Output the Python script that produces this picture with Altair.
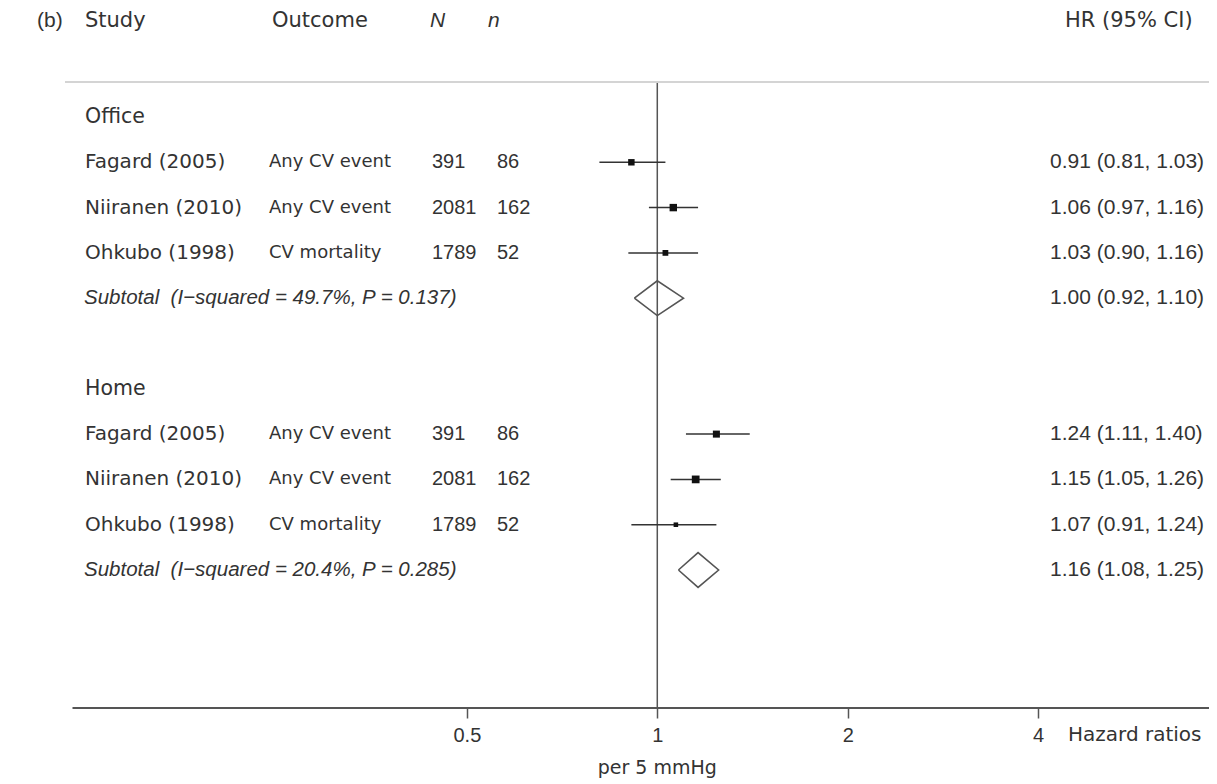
import altair as alt
import pandas as pd

# ---------------- data ----------------
groups = ["Office", "Home"]
group_rows = [1, 7]
studies = ["Fagard (2005)", "Niiranen (2010)", "Ohkubo (1998)"]
outcomes = ["Any CV event", "Any CV event", "CV mortality"]
N_vals = [391, 2081, 1789]
n_vals = [86, 162, 52]

hr = {"Office": [0.91, 1.06, 1.03], "Home": [1.24, 1.15, 1.07]}
lo = {"Office": [0.81, 0.97, 0.90], "Home": [1.11, 1.05, 0.91]}
hi = {"Office": [1.03, 1.16, 1.16], "Home": [1.40, 1.26, 1.24]}
weights = {"Office": [32.0, 42.4, 25.6], "Home": [38.0, 46.0, 16.0]}

sub_hr = [1.00, 1.16]
sub_lo = [0.92, 1.08]
sub_hi = [1.10, 1.25]
sub_i2 = ["49.7%", "20.4%"]
sub_p = ["0.137", "0.285"]

tick_values = [0.5, 1, 2, 4]

# ---------------- tables ----------------
study_rows = []
sub_rows = []
diamond = []
for g, base in zip(groups, group_rows):
    for i in range(3):
        study_rows.append({
            "group": g, "row": base + 1 + i, "study": studies[i],
            "outcome": outcomes[i], "N": str(N_vals[i]), "n": str(n_vals[i]),
            "hr": hr[g][i], "lo": lo[g][i], "hi": hi[g][i], "w": weights[g][i],
            "lab": f"{hr[g][i]:.2f} ({lo[g][i]:.2f}, {hi[g][i]:.2f})",
        })
    k = groups.index(g)
    r = base + 4
    sub_rows.append({
        "group": g, "row": r,
        "text": f"Subtotal\u00a0 (I\u2212squared = {sub_i2[k]}, P = {sub_p[k]})",
        "lab": f"{sub_hr[k]:.2f} ({sub_lo[k]:.2f}, {sub_hi[k]:.2f})",
    })
    h = 0.385
    pts = [(sub_lo[k], r), (sub_hr[k], r - h), (sub_hi[k], r),
           (sub_hr[k], r + h), (sub_lo[k], r)]
    for j, (xv, yv) in enumerate(pts):
        diamond.append({"group": g, "x": xv, "y": yv, "o": j})

sdf = pd.DataFrame(study_rows)
subdf = pd.DataFrame(sub_rows)
ddf = pd.DataFrame(diamond)
gdf = pd.DataFrame({"group": groups, "row": group_rows})

# ---------------- scales ----------------
xscale = alt.Scale(type="log", domain=[0.0941, 7.45], nice=False, zero=False)
yscale = alt.Scale(domain=[-1.406, 14.046], reverse=True, nice=False, zero=False)
xaxis = alt.Axis(values=tick_values, format=".1~f", domain=False, grid=False,
                 ticks=True, tickSize=10, tickColor="#555", tickWidth=1.5,
                 labelFont="Liberation Sans", labelFontSize=20, labelColor="#333",
                 labelPadding=7, title=None)
Y = alt.Y("row:Q", scale=yscale, axis=None)

TXT = "#333333"
WORD_FONT = "DejaVu Sans"
NUM_FONT = "Liberation Sans"

def col_text(df, field, xpx, font, size, style="normal", align="left"):
    return alt.Chart(df).mark_text(
        align=align, baseline="middle", font=font, fontSize=size,
        fontStyle=style, color=TXT
    ).encode(x=alt.value(xpx), y=Y, text=f"{field}:N")

# header texts
hdr = pd.DataFrame({
    "t": ["(b)", "Study", "Outcome", "N", "n", "HR (95% CI)"],
    "xp": [29, 77, 264, 422, 480, 1057],
    "it": ["normal", "normal", "normal", "italic", "italic", "normal"],
    "f": [NUM_FONT, WORD_FONT, WORD_FONT, NUM_FONT, NUM_FONT, WORD_FONT],
})
headers = []
for _, rr in hdr.iterrows():
    headers.append(
        alt.Chart(pd.DataFrame({"t": [rr["t"]]})).mark_text(
            align="left", baseline="middle", font=rr["f"], fontSize=21,
            fontStyle=rr["it"], color=TXT
        ).encode(x=alt.value(int(rr["xp"])), y=alt.value(13), text="t:N")
    )

separator = alt.Chart(pd.DataFrame({"a": [0]})).mark_rule(
    color="#d4d4d4", strokeWidth=2
).encode(x=alt.value(57), x2=alt.value(1201), y=alt.value(74))

null_line = alt.Chart(pd.DataFrame({"v": [1]})).mark_rule(
    color="#555", strokeWidth=1.5
).encode(x=alt.X("v:Q", scale=xscale, axis=xaxis), y=alt.value(75), y2=alt.value(700))

axis_line = alt.Chart(pd.DataFrame({"v": [0.119], "v2": [7.45]})).mark_rule(
    color="#555", strokeWidth=2
).encode(x=alt.X("v:Q", scale=xscale, axis=xaxis), x2="v2:Q", y=alt.value(700))

ci = alt.Chart(sdf).mark_rule(color="#333", strokeWidth=1.5).encode(
    x=alt.X("lo:Q", scale=xscale, axis=xaxis), x2="hi:Q", y=Y
)
boxes = alt.Chart(sdf).mark_square(color="#111", opacity=1).encode(
    x=alt.X("hr:Q", scale=xscale, axis=xaxis), y=Y,
    size=alt.Size("w:Q", scale=alt.Scale(domain=[0, 100], range=[0, 130]), legend=None),
)
diam = alt.Chart(ddf).mark_line(color="#555", strokeWidth=1.6).encode(
    x=alt.X("x:Q", scale=xscale, axis=xaxis),
    y=alt.Y("y:Q", scale=yscale, axis=None),
    detail="group:N", order="o:Q",
)

group_lbl = col_text(gdf, "group", 77, WORD_FONT, 20.5)
study_lbl = col_text(sdf, "study", 77, WORD_FONT, 20)
out_lbl = col_text(sdf, "outcome", 261, WORD_FONT, 18)
N_lbl = col_text(sdf, "N", 424, NUM_FONT, 20)
n_lbl = col_text(sdf, "n", 489, NUM_FONT, 20)
hr_lbl = col_text(sdf, "lab", 1042, NUM_FONT, 21)
sub_lbl = col_text(subdf, "text", 76, NUM_FONT, 20.5, style="italic")
subhr_lbl = col_text(subdf, "lab", 1042, NUM_FONT, 21)

hz = alt.Chart(pd.DataFrame({"t": ["Hazard ratios"]})).mark_text(
    align="left", baseline="middle", font=WORD_FONT, fontSize=20, color=TXT
).encode(x=alt.value(1060), y=alt.value(727), text="t:N")

per = alt.Chart(pd.DataFrame({"t": ["per 5 mmHg"], "v": [1]})).mark_text(
    align="center", baseline="alphabetic", font=WORD_FONT, fontSize=19, color=TXT
).encode(x=alt.X("v:Q", scale=xscale, axis=xaxis), y=alt.value(766), text="t:N")

chart = alt.layer(
    separator, null_line, axis_line, ci, boxes, diam,
    group_lbl, study_lbl, out_lbl, N_lbl, n_lbl, hr_lbl, sub_lbl, subhr_lbl,
    hz, per, *headers
).properties(
    width=1201, height=700,
    autosize=alt.AutoSizeParams(type="none"),
    padding={"left": 0, "top": 0, "right": 0, "bottom": 76},
    background="white",
).configure_view(stroke=None).configure_axis(
    labelFont="Liberation Sans", labelFontSize=20, labelColor="#333"
)

chart.save("out.html", embed_options={"renderer": "svg", "actions": False})
